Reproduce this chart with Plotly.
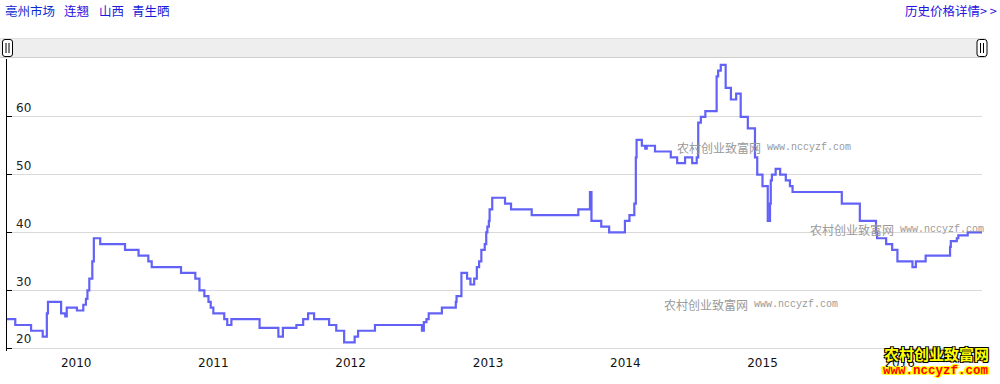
import plotly.graph_objects as go

# ---------------- data ----------------
dates = [
    "2009-07-01", "2009-07-23", "2009-09-03", "2009-10-04", "2009-10-15", "2009-10-18",
    "2009-11-22", "2009-12-03", "2009-12-07", "2010-01-03", "2010-01-20", "2010-01-27",
    "2010-01-31", "2010-02-05", "2010-02-13", "2010-02-17", "2010-03-06", "2010-05-11",
    "2010-06-16", "2010-07-12", "2010-07-21", "2010-10-07", "2010-11-14", "2010-11-25",
    "2010-12-08", "2010-12-19", "2010-12-25", "2011-01-01", "2011-01-30", "2011-02-07",
    "2011-02-18", "2011-05-04", "2011-06-23", "2011-07-05", "2011-08-10", "2011-08-28",
    "2011-09-10", "2011-09-26", "2011-11-05", "2011-11-24", "2011-12-15", "2012-01-12",
    "2012-01-21", "2012-03-06", "2012-07-09", "2012-07-14", "2012-07-21", "2012-07-27",
    "2012-08-31", "2012-10-07", "2012-10-09", "2012-10-22", "2012-11-06", "2012-11-15",
    "2012-11-25", "2012-12-02", "2012-12-08", "2012-12-14", "2012-12-23", "2012-12-27",
    "2012-12-30", "2013-01-03", "2013-01-05", "2013-01-12", "2013-02-15", "2013-03-03",
    "2013-04-27", "2013-08-29", "2013-09-29", "2013-10-03", "2013-10-29", "2013-11-19",
    "2013-12-31", "2014-01-12", "2014-01-25", "2014-01-29", "2014-01-31", "2014-02-14",
    "2014-02-23", "2014-02-27", "2014-03-21", "2014-05-02", "2014-05-19", "2014-06-09",
    "2014-06-28", "2014-07-10", "2014-07-14", "2014-07-21", "2014-08-02", "2014-09-01",
    "2014-09-05", "2014-09-12", "2014-09-25", "2014-10-09", "2014-10-23", "2014-11-04",
    "2014-11-23", "2014-12-12", "2014-12-18", "2015-01-01", "2015-01-15", "2015-01-21",
    "2015-01-23", "2015-01-26", "2015-02-05", "2015-02-17", "2015-03-04", "2015-03-15",
    "2015-03-22", "2015-07-31", "2015-09-17", "2015-10-30", "2015-11-02", "2015-11-26",
    "2015-12-12", "2015-12-26", "2016-02-04", "2016-02-13", "2016-03-10", "2016-05-14",
    "2016-05-16", "2016-06-01", "2016-06-05", "2016-06-30", "2016-08-07",
]
prices = [
    25, 24, 23, 22, 26, 28,
    26, 25.5, 27, 26.5, 27.5, 28.5,
    30, 32, 35, 39, 38, 37,
    36, 35, 34, 33, 32, 30,
    29, 28, 27, 26, 25, 24,
    25, 23.5, 22, 23.5, 24, 25,
    26, 25, 24, 23, 21, 22,
    23, 24, 23, 24.5, 25, 26,
    27, 28, 29, 33, 32, 31,
    32, 34, 35, 37, 38, 40,
    41, 42, 44, 46, 45, 44,
    43, 44, 47, 42, 41, 40,
    42, 43, 45, 53, 56, 55,
    54.5, 55, 54, 53, 52, 53,
    52, 53, 59, 60, 61, 67,
    68, 69, 65, 63, 64, 60,
    58, 53, 50, 48, 42, 45,
    49, 50, 51, 50, 49, 48,
    47, 45, 42, 40, 39, 38,
    37, 35, 34, 35, 36, 37.5,
    38.5, 39, 39.5, 40, 40,
]
x_range = ["2009-07-01", "2016-08-07"]
y_range = [19.5, 70]
y_ticks = [20, 30, 40, 50, 60]
year_ticks = ["2010-01-01", "2011-01-01", "2012-01-01", "2013-01-01",
              "2014-01-01", "2015-01-01", "2016-01-01"]
year_labels = ["2010", "2011", "2012", "2013", "2014", "2015", "2016"]

title_parts = ["亳州市场", "连翘", "山西", "青生晒"]
link_text = "历史价格详情> >"
wm_cn = "农村创业致富网"
wm_url = "www.nccyzf.com"

# ---------------- layout helpers ----------------
FW, FH = 1000, 384
ML, MR, MT, MB = 7, 18, 59, 33
PW, PH = FW - ML - MR, FH - MT - MB


def px(x):
    return (x - ML) / PW


def py(y):
    return (FH - MB - y) / PH


def rounded_rect(x0, y0, x1, y1, r):
    pts = [
        f"M {px(x0 + r)} {py(y0)}",
        f"L {px(x1 - r)} {py(y0)}",
        f"Q {px(x1)} {py(y0)} {px(x1)} {py(y0 + r)}",
        f"L {px(x1)} {py(y1 - r)}",
        f"Q {px(x1)} {py(y1)} {px(x1 - r)} {py(y1)}",
        f"L {px(x0 + r)} {py(y1)}",
        f"Q {px(x0)} {py(y1)} {px(x0)} {py(y1 - r)}",
        f"L {px(x0)} {py(y0 + r)}",
        f"Q {px(x0)} {py(y0)} {px(x0 + r)} {py(y0)}",
        "Z",
    ]
    return " ".join(pts)


fig = go.Figure()
fig.add_trace(go.Scatter(
    x=dates, y=prices, mode="lines",
    line=dict(color="#6262f7", width=2.2, shape="hv"),
    showlegend=False,
))

shapes = []
# top navigator bar
shapes.append(dict(type="rect", xref="paper", yref="paper",
                   x0=px(0), x1=px(986), y0=py(58), y1=py(38),
                   fillcolor="#eeeeee", line=dict(width=0), layer="below"))
shapes.append(dict(type="line", xref="paper", yref="paper",
                   x0=px(0), x1=px(986), y0=py(38.5), y1=py(38.5),
                   line=dict(color="#e2e2e2", width=1)))
shapes.append(dict(type="line", xref="paper", yref="paper",
                   x0=px(0), x1=px(986), y0=py(57.5), y1=py(57.5),
                   line=dict(color="#cfcfcf", width=1)))
for hx in (7.5, 982):
    shapes.append(dict(type="path", xref="paper", yref="paper",
                       path=rounded_rect(hx - 5, 39.5, hx + 5, 56.5, 2.5),
                       fillcolor="#ffffff", line=dict(color="#000000", width=1)))
    for dx in (-1.5, 1.5):
        shapes.append(dict(type="line", xref="paper", yref="paper",
                           x0=px(hx + dx), x1=px(hx + dx), y0=py(43), y1=py(53),
                           line=dict(color="#000000", width=1)))

annotations = []
# title parts
title_x = [3, 62, 97, 130]
title_col = ["#0a2ad0", "#2a10e0", "#1a1ad8", "#1a1ad8"]
for t, xx, c in zip(title_parts, title_x, title_col):
    annotations.append(dict(text=t, xref="paper", yref="paper", x=px(xx), y=py(10),
                            xanchor="left", yanchor="middle", showarrow=False,
                            font=dict(family="Noto Sans CJK SC", size=12.5, color=c)))
annotations.append(dict(text=link_text, xref="paper", yref="paper", x=px(999), y=py(10),
                        xanchor="right", yanchor="middle", showarrow=False,
                        font=dict(family="Noto Sans CJK SC", size=12.5, color="#2a10e0")))

# watermarks
for wx, wy in [(675, 147), (808, 229), (662, 304)]:
    annotations.append(dict(text=wm_cn, xref="paper", yref="paper", x=px(wx), y=py(wy),
                            xanchor="left", yanchor="middle", showarrow=False,
                            font=dict(family="Noto Sans CJK SC", size=12, color="#9a9a9a")))
    annotations.append(dict(text=wm_url, xref="paper", yref="paper", x=px(wx + 90), y=py(wy),
                            xanchor="left", yanchor="middle", showarrow=False,
                            font=dict(family="Liberation Mono", size=10, color="#9a9a9a")))

# logo bottom-right
annotations.append(dict(text="<b>" + wm_cn + "</b>", xref="paper", yref="paper",
                        x=px(936), y=py(353), xanchor="center", yanchor="middle",
                        showarrow=False,
                        font=dict(family="Noto Sans CJK SC", size=15, color="#ffff00",
                                  shadow="1px 1px 0 #000, -1px -1px 0 #000, 1px -1px 0 #000, -1px 1px 0 #000")))
annotations.append(dict(text="<b>" + wm_url + "</b>", xref="paper", yref="paper",
                        x=px(936), y=py(371), xanchor="center", yanchor="middle",
                        showarrow=False,
                        font=dict(family="Liberation Mono", size=12.5, color="#ff0000",
                                  shadow="1px 1px 0 #ffff00, -1px -1px 0 #ffff00, 1px -1px 0 #ffff00, -1px 1px 0 #ffff00, 2px 0 0 #ffff00, -2px 0 0 #ffff00")))

fig.update_layout(
    width=FW, height=FH,
    margin=dict(l=ML, r=MR, t=MT, b=MB, pad=0),
    paper_bgcolor="#ffffff", plot_bgcolor="#ffffff",
    showlegend=False,
    shapes=shapes,
    annotations=annotations,
    xaxis=dict(
        type="date", range=x_range,
        tickvals=year_ticks, ticktext=year_labels,
        showgrid=False, zeroline=False, showline=False,
        ticks="outside", ticklen=1, tickcolor="rgba(0,0,0,0)",
        tickfont=dict(family="DejaVu Sans", size=12, color="#111111"),
        fixedrange=True,
    ),
    yaxis=dict(
        range=y_range, tickvals=y_ticks,
        showgrid=True, gridcolor="#d9d9d9", gridwidth=1,
        zeroline=False, showline=True, linecolor="#000000", linewidth=1,
        ticks="inside", ticklen=5, tickcolor="#000000",
        ticklabelposition="inside top", ticklabelstandoff=8,
        tickfont=dict(family="DejaVu Sans", size=12, color="#222222"),
        fixedrange=True,
    ),
)

fig.write_html("out.html")
